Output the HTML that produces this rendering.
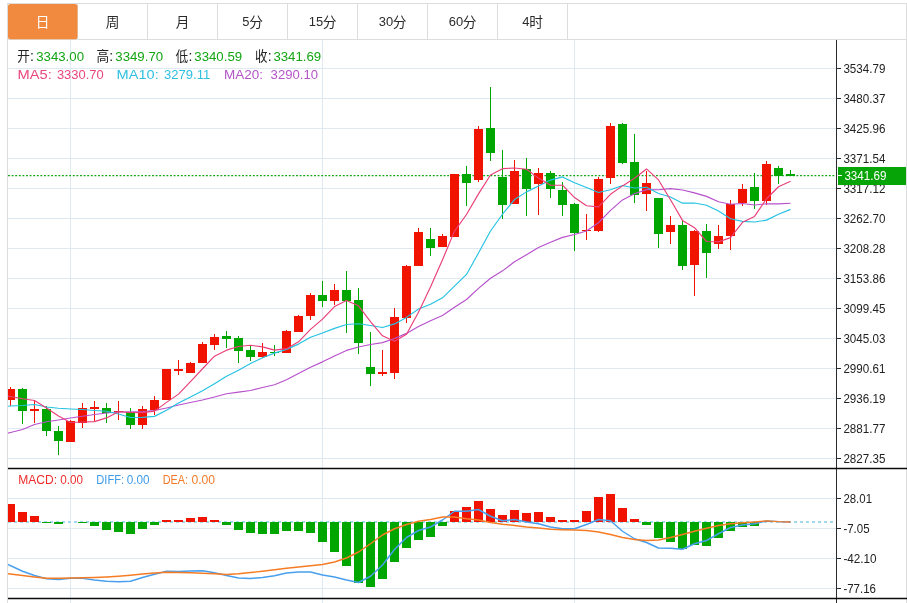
<!DOCTYPE html>
<html><head><meta charset="utf-8"><title>K-line</title>
<style>html,body{margin:0;padding:0;background:#fff;}body{width:907px;height:603px;overflow:hidden;font-family:"Liberation Sans",sans-serif;}svg{display:block;will-change:transform}</style>
</head><body>
<svg width="907" height="603" viewBox="0 0 907 603">
<rect width="907" height="603" fill="#fff"/>
<defs><clipPath id="cp"><rect x="8" y="40" width="828" height="563"/></clipPath></defs>
<g shape-rendering="crispEdges" stroke="#dfe9f1" stroke-width="1">
<line x1="8" y1="68.5" x2="836" y2="68.5"/>
<line x1="8" y1="98.5" x2="836" y2="98.5"/>
<line x1="8" y1="128.5" x2="836" y2="128.5"/>
<line x1="8" y1="158.5" x2="836" y2="158.5"/>
<line x1="8" y1="188.5" x2="836" y2="188.5"/>
<line x1="8" y1="218.5" x2="836" y2="218.5"/>
<line x1="8" y1="248.5" x2="836" y2="248.5"/>
<line x1="8" y1="278.5" x2="836" y2="278.5"/>
<line x1="8" y1="308.5" x2="836" y2="308.5"/>
<line x1="8" y1="338.5" x2="836" y2="338.5"/>
<line x1="8" y1="368.5" x2="836" y2="368.5"/>
<line x1="8" y1="398.5" x2="836" y2="398.5"/>
<line x1="8" y1="428.5" x2="836" y2="428.5"/>
<line x1="8" y1="458.5" x2="836" y2="458.5"/>
<line x1="8" y1="498.5" x2="836" y2="498.5"/>
<line x1="8" y1="528.5" x2="836" y2="528.5"/>
<line x1="8" y1="558.5" x2="836" y2="558.5"/>
<line x1="8" y1="588.5" x2="836" y2="588.5"/>
<line x1="70.5" y1="40" x2="70.5" y2="603"/>
<line x1="322.5" y1="40" x2="322.5" y2="603"/>
<line x1="574.5" y1="40" x2="574.5" y2="603"/>
</g>
<g shape-rendering="crispEdges" stroke="#dddddd" stroke-width="1" fill="none">
<line x1="7.5" y1="3" x2="7.5" y2="603"/>
<line x1="906.5" y1="3" x2="906.5" y2="603"/>
<line x1="7" y1="3.5" x2="907" y2="3.5"/>
<line x1="7" y1="39.5" x2="907" y2="39.5"/>
<line x1="77.5" y1="4" x2="77.5" y2="39"/>
<line x1="147.5" y1="4" x2="147.5" y2="39"/>
<line x1="217.5" y1="4" x2="217.5" y2="39"/>
<line x1="287.5" y1="4" x2="287.5" y2="39"/>
<line x1="357.5" y1="4" x2="357.5" y2="39"/>
<line x1="427.5" y1="4" x2="427.5" y2="39"/>
<line x1="497.5" y1="4" x2="497.5" y2="39"/>
<line x1="567.5" y1="4" x2="567.5" y2="39"/>
</g>
<rect x="8" y="4" width="69.5" height="35.3" rx="2.5" fill="#f18a3e"/>
<text x="35.66" y="26.8" font-family="'Liberation Sans', 'Noto Sans CJK SC', sans-serif" font-size="13.7" fill="#fff">日</text>
<text x="105.66" y="26.8" font-family="'Liberation Sans', 'Noto Sans CJK SC', sans-serif" font-size="13.7" fill="#2b2b2b">周</text>
<text x="175.66" y="26.8" font-family="'Liberation Sans', 'Noto Sans CJK SC', sans-serif" font-size="13.7" fill="#2b2b2b">月</text>
<text x="242.36" y="26.4" font-family="Liberation Sans, sans-serif" font-size="13.7" fill="#2b2b2b" textLength="7.2" lengthAdjust="spacingAndGlyphs">5</text>
<text x="249.26" y="26.8" font-family="'Liberation Sans', 'Noto Sans CJK SC', sans-serif" font-size="13.7" fill="#2b2b2b">分</text>
<text x="308.76" y="26.4" font-family="Liberation Sans, sans-serif" font-size="13.7" fill="#2b2b2b" textLength="14.4" lengthAdjust="spacingAndGlyphs">15</text>
<text x="322.86" y="26.8" font-family="'Liberation Sans', 'Noto Sans CJK SC', sans-serif" font-size="13.7" fill="#2b2b2b">分</text>
<text x="378.76" y="26.4" font-family="Liberation Sans, sans-serif" font-size="13.7" fill="#2b2b2b" textLength="14.4" lengthAdjust="spacingAndGlyphs">30</text>
<text x="392.86" y="26.8" font-family="'Liberation Sans', 'Noto Sans CJK SC', sans-serif" font-size="13.7" fill="#2b2b2b">分</text>
<text x="448.76" y="26.4" font-family="Liberation Sans, sans-serif" font-size="13.7" fill="#2b2b2b" textLength="14.4" lengthAdjust="spacingAndGlyphs">60</text>
<text x="462.86" y="26.8" font-family="'Liberation Sans', 'Noto Sans CJK SC', sans-serif" font-size="13.7" fill="#2b2b2b">分</text>
<text x="522.36" y="26.4" font-family="Liberation Sans, sans-serif" font-size="13.7" fill="#2b2b2b" textLength="7.2" lengthAdjust="spacingAndGlyphs">4</text>
<text x="529.26" y="26.8" font-family="'Liberation Sans', 'Noto Sans CJK SC', sans-serif" font-size="13.7" fill="#2b2b2b">时</text>
<text x="17.2" y="61.3" font-family="'Liberation Sans', 'Noto Sans CJK SC', sans-serif" font-size="13.5" fill="#222" textLength="12.6" lengthAdjust="spacingAndGlyphs">开</text>
<text x="30.1" y="60.9" font-family="Liberation Sans, sans-serif" font-size="14" fill="#222">:</text>
<text x="36.2" y="60.9" font-family="Liberation Sans, sans-serif" font-size="13.7" fill="#14a514" textLength="47.8" lengthAdjust="spacingAndGlyphs">3343.00</text>
<text x="96.4" y="61.3" font-family="'Liberation Sans', 'Noto Sans CJK SC', sans-serif" font-size="13.5" fill="#222" textLength="12.6" lengthAdjust="spacingAndGlyphs">高</text>
<text x="109.3" y="60.9" font-family="Liberation Sans, sans-serif" font-size="14" fill="#222">:</text>
<text x="115.3" y="60.9" font-family="Liberation Sans, sans-serif" font-size="13.7" fill="#14a514" textLength="47.8" lengthAdjust="spacingAndGlyphs">3349.70</text>
<text x="175.6" y="61.3" font-family="'Liberation Sans', 'Noto Sans CJK SC', sans-serif" font-size="13.5" fill="#222" textLength="12.6" lengthAdjust="spacingAndGlyphs">低</text>
<text x="188.5" y="60.9" font-family="Liberation Sans, sans-serif" font-size="14" fill="#222">:</text>
<text x="194.3" y="60.9" font-family="Liberation Sans, sans-serif" font-size="13.7" fill="#14a514" textLength="47.8" lengthAdjust="spacingAndGlyphs">3340.59</text>
<text x="254.9" y="61.3" font-family="'Liberation Sans', 'Noto Sans CJK SC', sans-serif" font-size="13.5" fill="#222" textLength="12.6" lengthAdjust="spacingAndGlyphs">收</text>
<text x="267.8" y="60.9" font-family="Liberation Sans, sans-serif" font-size="14" fill="#222">:</text>
<text x="273.4" y="60.9" font-family="Liberation Sans, sans-serif" font-size="13.7" fill="#14a514" textLength="47.8" lengthAdjust="spacingAndGlyphs">3341.69</text>
<text x="17.6" y="78.5" font-family="Liberation Sans, sans-serif" font-size="13.1" fill="#e8467c" textLength="34.1" lengthAdjust="spacingAndGlyphs">MA5:</text>
<text x="56.9" y="78.5" font-family="Liberation Sans, sans-serif" font-size="13.1" fill="#e8467c" textLength="46.8" lengthAdjust="spacingAndGlyphs">3330.70</text>
<text x="116.6" y="78.5" font-family="Liberation Sans, sans-serif" font-size="13.1" fill="#2fc0e0" textLength="42.1" lengthAdjust="spacingAndGlyphs">MA10:</text>
<text x="164.1" y="78.5" font-family="Liberation Sans, sans-serif" font-size="13.1" fill="#2fc0e0" textLength="46.1" lengthAdjust="spacingAndGlyphs">3279.11</text>
<text x="224.1" y="78.5" font-family="Liberation Sans, sans-serif" font-size="13.1" fill="#b455c8" textLength="38.9" lengthAdjust="spacingAndGlyphs">MA20:</text>
<text x="270.6" y="78.5" font-family="Liberation Sans, sans-serif" font-size="13.1" fill="#b455c8" textLength="47.4" lengthAdjust="spacingAndGlyphs">3290.10</text>
<line x1="8" y1="175.55" x2="836" y2="175.55" stroke="#14a514" stroke-width="1.15" stroke-dasharray="1.9,1.7"/>
<g clip-path="url(#cp)">
<g shape-rendering="crispEdges">
<rect x="10.0" y="387.00" width="1" height="19.00" fill="#f01400"/>
<rect x="6.0" y="389.00" width="9" height="10.50" fill="#f01400"/>
<rect x="22.0" y="388.00" width="1" height="36.00" fill="#00a600"/>
<rect x="18.0" y="389.00" width="9" height="21.50" fill="#00a600"/>
<rect x="34.0" y="401.00" width="1" height="21.50" fill="#f01400"/>
<rect x="30.0" y="409.00" width="9" height="1.50" fill="#f01400"/>
<rect x="46.0" y="406.00" width="1" height="29.50" fill="#00a600"/>
<rect x="42.0" y="408.50" width="9" height="22.50" fill="#00a600"/>
<rect x="58.0" y="426.00" width="1" height="28.50" fill="#00a600"/>
<rect x="54.0" y="430.50" width="9" height="10.50" fill="#00a600"/>
<rect x="70.0" y="420.00" width="1" height="21.75" fill="#f01400"/>
<rect x="66.0" y="421.00" width="9" height="20.75" fill="#f01400"/>
<rect x="82.0" y="402.50" width="1" height="25.00" fill="#f01400"/>
<rect x="78.0" y="408.00" width="9" height="14.50" fill="#f01400"/>
<rect x="94.0" y="401.00" width="1" height="20.00" fill="#f01400"/>
<rect x="90.0" y="407.00" width="9" height="1.75" fill="#f01400"/>
<rect x="106.0" y="403.00" width="1" height="19.50" fill="#00a600"/>
<rect x="102.0" y="408.00" width="9" height="4.50" fill="#00a600"/>
<rect x="118.0" y="400.50" width="1" height="19.00" fill="#f01400"/>
<rect x="114.0" y="410.50" width="9" height="1.00" fill="#f01400"/>
<rect x="130.0" y="408.00" width="1" height="20.75" fill="#00a600"/>
<rect x="126.0" y="412.00" width="9" height="12.50" fill="#00a600"/>
<rect x="142.0" y="405.50" width="1" height="23.25" fill="#f01400"/>
<rect x="138.0" y="408.75" width="9" height="15.75" fill="#f01400"/>
<rect x="154.0" y="395.50" width="1" height="19.00" fill="#f01400"/>
<rect x="150.0" y="399.50" width="9" height="10.50" fill="#f01400"/>
<rect x="166.0" y="368.75" width="1" height="31.25" fill="#f01400"/>
<rect x="162.0" y="368.75" width="9" height="31.25" fill="#f01400"/>
<rect x="178.0" y="360.00" width="1" height="14.50" fill="#f01400"/>
<rect x="174.0" y="369.00" width="9" height="2.00" fill="#f01400"/>
<rect x="190.0" y="361.75" width="1" height="10.75" fill="#f01400"/>
<rect x="186.0" y="362.50" width="9" height="10.00" fill="#f01400"/>
<rect x="202.0" y="342.00" width="1" height="21.00" fill="#f01400"/>
<rect x="198.0" y="344.00" width="9" height="19.00" fill="#f01400"/>
<rect x="214.0" y="334.00" width="1" height="16.00" fill="#f01400"/>
<rect x="210.0" y="336.50" width="9" height="8.00" fill="#f01400"/>
<rect x="226.0" y="331.25" width="1" height="16.75" fill="#00a600"/>
<rect x="222.0" y="336.25" width="9" height="2.50" fill="#00a600"/>
<rect x="238.0" y="336.25" width="1" height="26.25" fill="#00a600"/>
<rect x="234.0" y="338.00" width="9" height="12.50" fill="#00a600"/>
<rect x="250.0" y="344.50" width="1" height="16.75" fill="#00a600"/>
<rect x="246.0" y="350.00" width="9" height="6.75" fill="#00a600"/>
<rect x="262.0" y="343.00" width="1" height="15.00" fill="#f01400"/>
<rect x="258.0" y="351.75" width="9" height="5.25" fill="#f01400"/>
<rect x="274.0" y="345.00" width="1" height="10.50" fill="#00a600"/>
<rect x="270.0" y="351.75" width="9" height="1.25" fill="#00a600"/>
<rect x="286.0" y="330.00" width="1" height="23.25" fill="#f01400"/>
<rect x="282.0" y="331.25" width="9" height="22.00" fill="#f01400"/>
<rect x="298.0" y="315.00" width="1" height="17.00" fill="#f01400"/>
<rect x="294.0" y="316.25" width="9" height="15.75" fill="#f01400"/>
<rect x="310.0" y="292.50" width="1" height="27.50" fill="#f01400"/>
<rect x="306.0" y="294.50" width="9" height="21.00" fill="#f01400"/>
<rect x="322.0" y="280.75" width="1" height="26.25" fill="#00a600"/>
<rect x="318.0" y="295.00" width="9" height="5.75" fill="#00a600"/>
<rect x="334.0" y="284.25" width="1" height="20.25" fill="#f01400"/>
<rect x="330.0" y="290.00" width="9" height="10.75" fill="#f01400"/>
<rect x="346.0" y="270.50" width="1" height="62.00" fill="#00a600"/>
<rect x="342.0" y="290.00" width="9" height="10.75" fill="#00a600"/>
<rect x="358.0" y="287.50" width="1" height="66.25" fill="#00a600"/>
<rect x="354.0" y="299.50" width="9" height="43.50" fill="#00a600"/>
<rect x="370.0" y="332.00" width="1" height="54.25" fill="#00a600"/>
<rect x="366.0" y="367.00" width="9" height="6.50" fill="#00a600"/>
<rect x="382.0" y="350.00" width="1" height="26.25" fill="#f01400"/>
<rect x="378.0" y="372.00" width="9" height="1.50" fill="#f01400"/>
<rect x="394.0" y="308.00" width="1" height="70.75" fill="#f01400"/>
<rect x="390.0" y="317.00" width="9" height="55.50" fill="#f01400"/>
<rect x="406.0" y="265.00" width="1" height="58.00" fill="#f01400"/>
<rect x="402.0" y="266.25" width="9" height="51.75" fill="#f01400"/>
<rect x="418.0" y="227.50" width="1" height="38.25" fill="#f01400"/>
<rect x="414.0" y="232.00" width="9" height="33.75" fill="#f01400"/>
<rect x="430.0" y="227.50" width="1" height="28.25" fill="#00a600"/>
<rect x="426.0" y="238.75" width="9" height="8.75" fill="#00a600"/>
<rect x="442.0" y="234.25" width="1" height="12.75" fill="#f01400"/>
<rect x="438.0" y="236.25" width="9" height="10.75" fill="#f01400"/>
<rect x="454.0" y="173.75" width="1" height="62.85" fill="#f01400"/>
<rect x="450.0" y="173.75" width="9" height="62.85" fill="#f01400"/>
<rect x="466.0" y="165.50" width="1" height="40.75" fill="#00a600"/>
<rect x="462.0" y="173.75" width="9" height="9.25" fill="#00a600"/>
<rect x="478.0" y="125.50" width="1" height="56.50" fill="#f01400"/>
<rect x="474.0" y="128.75" width="9" height="51.25" fill="#f01400"/>
<rect x="490.0" y="87.00" width="1" height="73.50" fill="#00a600"/>
<rect x="486.0" y="128.25" width="9" height="25.00" fill="#00a600"/>
<rect x="502.0" y="149.50" width="1" height="69.75" fill="#00a600"/>
<rect x="498.0" y="177.00" width="9" height="27.50" fill="#00a600"/>
<rect x="514.0" y="160.00" width="1" height="44.25" fill="#f01400"/>
<rect x="510.0" y="170.50" width="9" height="33.75" fill="#f01400"/>
<rect x="526.0" y="158.00" width="1" height="58.25" fill="#00a600"/>
<rect x="522.0" y="168.75" width="9" height="20.50" fill="#00a600"/>
<rect x="538.0" y="167.50" width="1" height="47.50" fill="#f01400"/>
<rect x="534.0" y="173.00" width="9" height="10.75" fill="#f01400"/>
<rect x="550.0" y="170.50" width="1" height="27.00" fill="#00a600"/>
<rect x="546.0" y="173.00" width="9" height="15.75" fill="#00a600"/>
<rect x="562.0" y="182.00" width="1" height="33.50" fill="#00a600"/>
<rect x="558.0" y="189.50" width="9" height="15.00" fill="#00a600"/>
<rect x="574.0" y="202.50" width="1" height="48.75" fill="#00a600"/>
<rect x="570.0" y="203.75" width="9" height="28.75" fill="#00a600"/>
<rect x="586.0" y="214.25" width="1" height="25.25" fill="#f01400"/>
<rect x="582.0" y="230.00" width="9" height="1.25" fill="#f01400"/>
<rect x="598.0" y="177.00" width="1" height="54.75" fill="#f01400"/>
<rect x="594.0" y="178.75" width="9" height="51.75" fill="#f01400"/>
<rect x="610.0" y="123.00" width="1" height="61.00" fill="#f01400"/>
<rect x="606.0" y="125.75" width="9" height="52.25" fill="#f01400"/>
<rect x="622.0" y="123.00" width="1" height="41.25" fill="#00a600"/>
<rect x="618.0" y="124.25" width="9" height="38.25" fill="#00a600"/>
<rect x="634.0" y="134.25" width="1" height="69.00" fill="#00a600"/>
<rect x="630.0" y="161.75" width="9" height="32.75" fill="#00a600"/>
<rect x="646.0" y="171.25" width="1" height="40.00" fill="#f01400"/>
<rect x="642.0" y="183.25" width="9" height="10.50" fill="#f01400"/>
<rect x="658.0" y="197.50" width="1" height="50.50" fill="#00a600"/>
<rect x="654.0" y="198.25" width="9" height="35.50" fill="#00a600"/>
<rect x="670.0" y="216.25" width="1" height="27.50" fill="#f01400"/>
<rect x="666.0" y="225.00" width="9" height="6.75" fill="#f01400"/>
<rect x="682.0" y="220.50" width="1" height="49.50" fill="#00a600"/>
<rect x="678.0" y="225.00" width="9" height="40.50" fill="#00a600"/>
<rect x="694.0" y="230.00" width="1" height="66.25" fill="#f01400"/>
<rect x="690.0" y="230.75" width="9" height="33.75" fill="#f01400"/>
<rect x="706.0" y="223.75" width="1" height="53.75" fill="#00a600"/>
<rect x="702.0" y="230.75" width="9" height="21.75" fill="#00a600"/>
<rect x="718.0" y="225.00" width="1" height="23.75" fill="#f01400"/>
<rect x="714.0" y="235.75" width="9" height="8.00" fill="#f01400"/>
<rect x="730.0" y="200.00" width="1" height="49.50" fill="#f01400"/>
<rect x="726.0" y="203.75" width="9" height="32.50" fill="#f01400"/>
<rect x="742.0" y="183.75" width="1" height="21.75" fill="#f01400"/>
<rect x="738.0" y="188.75" width="9" height="14.25" fill="#f01400"/>
<rect x="754.0" y="172.50" width="1" height="36.25" fill="#00a600"/>
<rect x="750.0" y="187.00" width="9" height="14.25" fill="#00a600"/>
<rect x="766.0" y="160.75" width="1" height="43.75" fill="#f01400"/>
<rect x="762.0" y="164.25" width="9" height="37.00" fill="#f01400"/>
<rect x="778.0" y="166.25" width="1" height="17.50" fill="#00a600"/>
<rect x="774.0" y="167.50" width="9" height="8.10" fill="#00a600"/>
<rect x="790.0" y="170.00" width="1" height="5.90" fill="#00a600"/>
<rect x="786.0" y="173.80" width="9" height="2.10" fill="#00a600"/>
</g>
<polyline fill="none" stroke="#b850cc" stroke-width="1.15" stroke-linejoin="round" points="8.0,433.20 10.5,432.50 22.5,429.50 34.5,424.50 46.5,421.75 58.5,420.00 70.5,418.00 82.5,416.25 94.5,414.50 106.5,413.00 118.5,412.00 130.5,411.75 142.5,411.50 154.5,410.50 166.5,408.00 178.5,405.00 190.5,402.50 202.5,400.00 214.5,397.00 226.5,393.75 238.5,392.11 250.5,390.50 262.5,387.56 274.5,384.76 286.5,379.77 298.5,373.54 310.5,367.21 322.5,361.85 334.5,356.00 346.5,350.41 358.5,347.04 370.5,344.49 382.5,342.65 394.5,338.52 406.5,333.40 418.5,326.55 430.5,320.80 442.5,315.41 454.5,307.27 466.5,299.49 478.5,288.40 490.5,278.23 502.5,270.86 514.5,261.74 526.5,254.64 538.5,247.47 550.5,242.19 562.5,237.38 574.5,234.50 586.5,230.96 598.5,222.75 610.5,210.36 622.5,199.89 634.5,193.76 646.5,189.61 658.5,189.70 670.5,188.57 682.5,190.04 694.5,192.89 706.5,196.36 718.5,201.71 730.5,204.24 742.5,203.45 754.5,204.99 766.5,203.74 778.5,203.87 790.5,203.22"/>
<polyline fill="none" stroke="#24c2e2" stroke-width="1.15" stroke-linejoin="round" points="8.0,406.30 10.5,406.00 22.5,405.50 34.5,404.50 46.5,407.00 58.5,408.25 70.5,409.00 82.5,409.50 94.5,410.50 106.5,411.25 118.5,413.95 130.5,417.50 142.5,417.32 154.5,416.38 166.5,410.15 178.5,402.95 190.5,397.10 202.5,390.70 214.5,383.65 226.5,376.27 238.5,370.27 250.5,363.50 262.5,357.80 274.5,353.15 286.5,349.40 298.5,344.12 310.5,337.32 322.5,333.00 334.5,328.35 346.5,324.55 358.5,323.80 370.5,325.48 382.5,327.50 394.5,323.90 406.5,317.40 418.5,308.98 430.5,304.27 442.5,297.82 454.5,286.20 466.5,274.43 478.5,253.00 490.5,230.97 502.5,214.22 514.5,199.57 526.5,191.88 538.5,185.97 550.5,180.10 562.5,176.93 574.5,182.80 586.5,187.50 598.5,192.50 610.5,189.75 622.5,185.55 634.5,187.95 646.5,187.35 658.5,193.43 670.5,197.05 682.5,203.15 694.5,202.97 706.5,205.22 718.5,210.93 730.5,218.72 742.5,221.35 754.5,222.03 766.5,220.12 778.5,214.31 790.5,209.40"/>
<polyline fill="none" stroke="#ea3e78" stroke-width="1.15" stroke-linejoin="round" points="8.0,396.20 10.5,396.50 22.5,398.75 34.5,400.50 46.5,408.00 58.5,416.10 70.5,422.50 82.5,422.00 94.5,421.60 106.5,417.90 118.5,411.80 130.5,412.50 142.5,412.65 154.5,411.15 166.5,402.40 178.5,394.10 190.5,381.70 202.5,368.75 214.5,356.15 226.5,350.15 238.5,346.45 250.5,345.30 262.5,346.85 274.5,350.15 286.5,348.65 298.5,341.80 310.5,329.35 322.5,319.15 334.5,306.55 346.5,300.45 358.5,305.80 370.5,321.60 382.5,335.85 394.5,341.25 406.5,334.35 418.5,312.15 430.5,286.95 442.5,259.80 454.5,231.15 466.5,214.50 478.5,193.85 490.5,175.00 502.5,168.65 514.5,168.00 526.5,169.25 538.5,178.10 550.5,185.20 562.5,185.20 574.5,197.60 586.5,205.75 598.5,206.90 610.5,194.30 622.5,185.90 634.5,178.30 646.5,168.95 658.5,179.95 670.5,199.80 682.5,220.40 694.5,227.65 706.5,241.50 718.5,241.90 730.5,237.65 742.5,222.30 754.5,216.40 766.5,198.75 778.5,186.72 790.5,181.15"/>
</g>
<g clip-path="url(#cp)">
<line x1="8" y1="522" x2="834" y2="522" stroke="#a4d8ee" stroke-width="1.8" stroke-dasharray="3,3"/>
<g shape-rendering="crispEdges">
<rect x="6.0" y="504.25" width="9" height="17.75" fill="#f01400"/>
<rect x="18.0" y="511.75" width="9" height="10.25" fill="#f01400"/>
<rect x="30.0" y="516.25" width="9" height="5.75" fill="#f01400"/>
<rect x="42.0" y="522" width="9" height="0.60" fill="#00a600"/>
<rect x="54.0" y="522" width="9" height="2.00" fill="#00a600"/>
<rect x="78.0" y="522" width="9" height="0.50" fill="#00a600"/>
<rect x="90.0" y="522" width="9" height="3.75" fill="#00a600"/>
<rect x="102.0" y="522" width="9" height="7.50" fill="#00a600"/>
<rect x="114.0" y="522" width="9" height="9.75" fill="#00a600"/>
<rect x="126.0" y="522" width="9" height="11.50" fill="#00a600"/>
<rect x="138.0" y="522" width="9" height="7.25" fill="#00a600"/>
<rect x="150.0" y="522" width="9" height="3.00" fill="#00a600"/>
<rect x="162.0" y="520.00" width="9" height="2.00" fill="#f01400"/>
<rect x="174.0" y="520.00" width="9" height="2.00" fill="#f01400"/>
<rect x="186.0" y="518.25" width="9" height="3.75" fill="#f01400"/>
<rect x="198.0" y="517.00" width="9" height="5.00" fill="#f01400"/>
<rect x="210.0" y="519.50" width="9" height="2.50" fill="#f01400"/>
<rect x="222.0" y="522" width="9" height="2.50" fill="#00a600"/>
<rect x="234.0" y="522" width="9" height="8.00" fill="#00a600"/>
<rect x="246.0" y="522" width="9" height="11.25" fill="#00a600"/>
<rect x="258.0" y="522" width="9" height="11.75" fill="#00a600"/>
<rect x="270.0" y="522" width="9" height="11.75" fill="#00a600"/>
<rect x="282.0" y="522" width="9" height="8.75" fill="#00a600"/>
<rect x="294.0" y="522" width="9" height="8.75" fill="#00a600"/>
<rect x="306.0" y="522" width="9" height="11.25" fill="#00a600"/>
<rect x="318.0" y="522" width="9" height="20.00" fill="#00a600"/>
<rect x="330.0" y="522" width="9" height="29.50" fill="#00a600"/>
<rect x="342.0" y="522" width="9" height="44.25" fill="#00a600"/>
<rect x="354.0" y="522" width="9" height="61.00" fill="#00a600"/>
<rect x="366.0" y="522" width="9" height="64.75" fill="#00a600"/>
<rect x="378.0" y="522" width="9" height="57.25" fill="#00a600"/>
<rect x="390.0" y="522" width="9" height="39.75" fill="#00a600"/>
<rect x="402.0" y="522" width="9" height="26.25" fill="#00a600"/>
<rect x="414.0" y="522" width="9" height="18.25" fill="#00a600"/>
<rect x="426.0" y="522" width="9" height="14.75" fill="#00a600"/>
<rect x="438.0" y="522" width="9" height="3.50" fill="#00a600"/>
<rect x="450.0" y="510.50" width="9" height="11.50" fill="#f01400"/>
<rect x="462.0" y="507.00" width="9" height="15.00" fill="#f01400"/>
<rect x="474.0" y="500.50" width="9" height="21.50" fill="#f01400"/>
<rect x="486.0" y="508.50" width="9" height="13.50" fill="#f01400"/>
<rect x="498.0" y="515.00" width="9" height="7.00" fill="#f01400"/>
<rect x="510.0" y="509.75" width="9" height="12.25" fill="#f01400"/>
<rect x="522.0" y="512.50" width="9" height="9.50" fill="#f01400"/>
<rect x="534.0" y="512.00" width="9" height="10.00" fill="#f01400"/>
<rect x="546.0" y="517.00" width="9" height="5.00" fill="#f01400"/>
<rect x="558.0" y="520.00" width="9" height="2.00" fill="#f01400"/>
<rect x="570.0" y="520.00" width="9" height="2.00" fill="#f01400"/>
<rect x="582.0" y="510.75" width="9" height="11.25" fill="#f01400"/>
<rect x="594.0" y="497.25" width="9" height="24.75" fill="#f01400"/>
<rect x="606.0" y="494.25" width="9" height="27.75" fill="#f01400"/>
<rect x="618.0" y="507.75" width="9" height="14.25" fill="#f01400"/>
<rect x="630.0" y="518.75" width="9" height="3.25" fill="#f01400"/>
<rect x="642.0" y="522" width="9" height="3.25" fill="#00a600"/>
<rect x="654.0" y="522" width="9" height="16.25" fill="#00a600"/>
<rect x="666.0" y="522" width="9" height="20.25" fill="#00a600"/>
<rect x="678.0" y="522" width="9" height="27.25" fill="#00a600"/>
<rect x="690.0" y="522" width="9" height="22.50" fill="#00a600"/>
<rect x="702.0" y="522" width="9" height="23.50" fill="#00a600"/>
<rect x="714.0" y="522" width="9" height="16.25" fill="#00a600"/>
<rect x="726.0" y="522" width="9" height="8.50" fill="#00a600"/>
<rect x="738.0" y="522" width="9" height="4.75" fill="#00a600"/>
<rect x="750.0" y="522" width="9" height="3.50" fill="#00a600"/>
<rect x="762.0" y="520.80" width="9" height="1.20" fill="#f01400"/>
</g>
<polyline fill="none" stroke="#479fee" stroke-width="1.45" stroke-linejoin="round" points="8.0,564.50 22.5,571.25 34.5,575.50 46.5,578.75 58.5,579.50 70.5,578.25 82.5,578.40 94.5,580.00 106.5,581.25 118.5,581.75 130.5,581.25 142.5,577.50 154.5,574.25 166.5,571.25 178.5,571.50 190.5,571.00 202.5,570.75 214.5,572.80 226.5,575.50 238.5,578.00 250.5,578.50 262.5,577.50 274.5,575.75 286.5,573.00 298.5,572.00 310.5,572.00 322.5,575.00 334.5,577.00 346.5,580.00 358.5,582.50 370.5,576.25 382.5,565.00 394.5,549.50 406.5,537.50 418.5,530.50 430.5,527.00 442.5,520.00 454.5,511.25 466.5,511.25 478.5,509.50 490.5,516.25 502.5,520.75 514.5,519.50 526.5,522.00 538.5,523.75 550.5,527.00 562.5,528.75 574.5,528.75 586.5,524.50 598.5,519.50 610.5,520.75 622.5,531.25 634.5,538.75 646.5,542.50 658.5,548.00 670.5,548.25 682.5,549.25 694.5,543.75 706.5,540.50 718.5,533.75 730.5,527.50 742.5,525.00 754.5,523.75 766.5,520.90 778.5,521.60 790.5,521.95"/>
<polyline fill="none" stroke="#f57c24" stroke-width="1.45" stroke-linejoin="round" points="8.0,573.75 22.5,575.50 34.5,577.00 46.5,578.25 58.5,578.30 70.5,578.00 82.5,577.80 94.5,577.50 106.5,577.00 118.5,576.25 130.5,575.25 142.5,574.00 154.5,573.00 166.5,572.25 178.5,572.50 190.5,572.80 202.5,573.25 214.5,573.75 226.5,574.50 238.5,573.75 250.5,572.50 262.5,571.25 274.5,569.75 286.5,568.25 298.5,567.00 310.5,565.75 322.5,564.50 334.5,562.00 346.5,558.00 358.5,552.00 370.5,543.75 382.5,535.00 394.5,528.75 406.5,524.50 418.5,521.25 430.5,519.50 442.5,517.00 454.5,517.00 466.5,518.75 478.5,520.00 490.5,522.50 502.5,524.25 514.5,525.50 526.5,527.00 538.5,528.00 550.5,529.25 562.5,529.75 574.5,530.00 586.5,530.50 598.5,532.00 610.5,534.50 622.5,537.50 634.5,539.50 646.5,540.50 658.5,540.00 670.5,537.50 682.5,534.50 694.5,531.25 706.5,528.25 718.5,525.50 730.5,523.75 742.5,522.75 754.5,522.00 766.5,520.90 778.5,521.60 790.5,521.95"/>
</g>
<g shape-rendering="crispEdges" stroke="#2b2b2b" stroke-width="1">
<line x1="836.5" y1="40" x2="836.5" y2="603"/>
<line x1="837" y1="68.5" x2="841" y2="68.5"/>
<line x1="837" y1="98.5" x2="841" y2="98.5"/>
<line x1="837" y1="128.5" x2="841" y2="128.5"/>
<line x1="837" y1="158.5" x2="841" y2="158.5"/>
<line x1="837" y1="188.5" x2="841" y2="188.5"/>
<line x1="837" y1="218.5" x2="841" y2="218.5"/>
<line x1="837" y1="248.5" x2="841" y2="248.5"/>
<line x1="837" y1="278.5" x2="841" y2="278.5"/>
<line x1="837" y1="308.5" x2="841" y2="308.5"/>
<line x1="837" y1="338.5" x2="841" y2="338.5"/>
<line x1="837" y1="368.5" x2="841" y2="368.5"/>
<line x1="837" y1="398.5" x2="841" y2="398.5"/>
<line x1="837" y1="428.5" x2="841" y2="428.5"/>
<line x1="837" y1="458.5" x2="841" y2="458.5"/>
<line x1="837" y1="498.5" x2="841" y2="498.5"/>
<line x1="837" y1="528.5" x2="841" y2="528.5"/>
<line x1="837" y1="558.5" x2="841" y2="558.5"/>
<line x1="837" y1="588.5" x2="841" y2="588.5"/>
</g>
<text x="843.4" y="72.6" font-family="Liberation Sans, sans-serif" font-size="13" fill="#222" textLength="42" lengthAdjust="spacingAndGlyphs">3534.79</text>
<text x="843.4" y="102.6" font-family="Liberation Sans, sans-serif" font-size="13" fill="#222" textLength="42" lengthAdjust="spacingAndGlyphs">3480.37</text>
<text x="843.4" y="132.6" font-family="Liberation Sans, sans-serif" font-size="13" fill="#222" textLength="42" lengthAdjust="spacingAndGlyphs">3425.96</text>
<text x="843.4" y="162.6" font-family="Liberation Sans, sans-serif" font-size="13" fill="#222" textLength="42" lengthAdjust="spacingAndGlyphs">3371.54</text>
<text x="843.4" y="192.6" font-family="Liberation Sans, sans-serif" font-size="13" fill="#222" textLength="42" lengthAdjust="spacingAndGlyphs">3317.12</text>
<text x="843.4" y="222.6" font-family="Liberation Sans, sans-serif" font-size="13" fill="#222" textLength="42" lengthAdjust="spacingAndGlyphs">3262.70</text>
<text x="843.4" y="252.6" font-family="Liberation Sans, sans-serif" font-size="13" fill="#222" textLength="42" lengthAdjust="spacingAndGlyphs">3208.28</text>
<text x="843.4" y="282.6" font-family="Liberation Sans, sans-serif" font-size="13" fill="#222" textLength="42" lengthAdjust="spacingAndGlyphs">3153.86</text>
<text x="843.4" y="312.6" font-family="Liberation Sans, sans-serif" font-size="13" fill="#222" textLength="42" lengthAdjust="spacingAndGlyphs">3099.45</text>
<text x="843.4" y="342.6" font-family="Liberation Sans, sans-serif" font-size="13" fill="#222" textLength="42" lengthAdjust="spacingAndGlyphs">3045.03</text>
<text x="843.4" y="372.6" font-family="Liberation Sans, sans-serif" font-size="13" fill="#222" textLength="42" lengthAdjust="spacingAndGlyphs">2990.61</text>
<text x="843.4" y="402.6" font-family="Liberation Sans, sans-serif" font-size="13" fill="#222" textLength="42" lengthAdjust="spacingAndGlyphs">2936.19</text>
<text x="843.4" y="432.6" font-family="Liberation Sans, sans-serif" font-size="13" fill="#222" textLength="42" lengthAdjust="spacingAndGlyphs">2881.77</text>
<text x="843.4" y="462.6" font-family="Liberation Sans, sans-serif" font-size="13" fill="#222" textLength="42" lengthAdjust="spacingAndGlyphs">2827.35</text>
<text x="843.4" y="502.6" font-family="Liberation Sans, sans-serif" font-size="13" fill="#222" textLength="28.6" lengthAdjust="spacingAndGlyphs">28.01</text>
<text x="843.4" y="532.6" font-family="Liberation Sans, sans-serif" font-size="13" fill="#222" textLength="26.2" lengthAdjust="spacingAndGlyphs">-7.05</text>
<text x="843.4" y="562.6" font-family="Liberation Sans, sans-serif" font-size="13" fill="#222" textLength="33.2" lengthAdjust="spacingAndGlyphs">-42.10</text>
<text x="843.4" y="592.6" font-family="Liberation Sans, sans-serif" font-size="13" fill="#222" textLength="32.6" lengthAdjust="spacingAndGlyphs">-77.16</text>
<line x1="8" y1="468.5" x2="907" y2="468.5" stroke="#0c0c0c" stroke-width="1.3"/>
<line x1="8" y1="598.5" x2="907" y2="598.5" stroke="#0c0c0c" stroke-width="1.3"/>
<rect x="838" y="166.5" width="68" height="18" fill="#07a407" shape-rendering="crispEdges"/>
<line x1="838" y1="175.5" x2="841.5" y2="175.5" stroke="#fff" stroke-width="1" shape-rendering="crispEdges"/>
<text x="844.4" y="179.9" font-family="Liberation Sans, sans-serif" font-size="13" fill="#fff" textLength="42" lengthAdjust="spacingAndGlyphs">3341.69</text>
<text x="18.2" y="484.3" font-family="Liberation Sans, sans-serif" font-size="13" fill="#ee2c2c" textLength="38.8" lengthAdjust="spacingAndGlyphs">MACD:</text>
<text x="60.3" y="484.3" font-family="Liberation Sans, sans-serif" font-size="13" fill="#ee2c2c" textLength="22.8" lengthAdjust="spacingAndGlyphs">0.00</text>
<text x="96.3" y="484.3" font-family="Liberation Sans, sans-serif" font-size="13" fill="#3f9be8" textLength="27.9" lengthAdjust="spacingAndGlyphs">DIFF:</text>
<text x="126.7" y="484.3" font-family="Liberation Sans, sans-serif" font-size="13" fill="#3f9be8" textLength="22.9" lengthAdjust="spacingAndGlyphs">0.00</text>
<text x="162.7" y="484.3" font-family="Liberation Sans, sans-serif" font-size="13" fill="#f27a28" textLength="25.4" lengthAdjust="spacingAndGlyphs">DEA:</text>
<text x="191.4" y="484.3" font-family="Liberation Sans, sans-serif" font-size="13" fill="#f27a28" textLength="23.6" lengthAdjust="spacingAndGlyphs">0.00</text>
</svg>
</body></html>
